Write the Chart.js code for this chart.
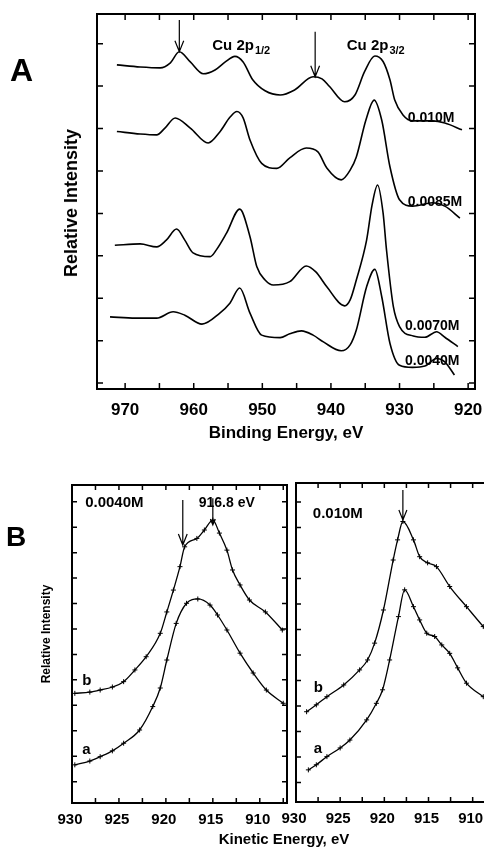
<!DOCTYPE html>
<html lang="en">
<head>
<meta charset="UTF-8">
<title>Cu 2p XPS spectra</title>
<style>
  body {
    margin: 0;
    width: 484px;
    height: 847px;
    overflow: hidden;
    position: relative;
    background: #fff;
    color: #000;
    font-family: "Liberation Sans", Arial, sans-serif;
    font-weight: bold;
  }
  canvas { position: absolute; left: 0; top: 0; }
  .lbl { position: absolute; white-space: nowrap; line-height: 1; }
  .ytitle { transform: translate(-50%, -50%) rotate(-90deg); }
</style>
</head>
<body>
  <canvas id="chartA" width="484" height="847"></canvas>
  <canvas id="chartBL" width="484" height="847"></canvas>
  <canvas id="chartBR" width="530" height="847"></canvas>

  <div class="lbl" style="left:10px; top:54px; font-size:32px;">A</div>
  <div class="lbl" style="left:6px; top:523px; font-size:28px;">B</div>
  <div class="lbl ytitle" style="left:71px; top:203px; font-size:18px;">Relative Intensity</div>
  <div class="lbl ytitle" style="left:46px; top:634px; font-size:12px;">Relative Intensity</div>
  <div class="lbl" style="left:284px; top:831px; font-size:15px; transform:translateX(-50%);">Kinetic Energy, eV</div>

  <script src="https://cdn.jsdelivr.net/npm/chart.js"></script>
  <script>
    // tick labels
    const tickLabelsA = [970, 960, 950, 940, 930, 920];
    const tickLabelsB = [930, 925, 920, 915, 910];

    // panel A: binding energy (eV) and relative intensity (offset units)
    const e010 = [971.2, 967.8, 964.9, 963.4, 962.1, 960.5, 958.6, 956.9, 955.4, 954.0, 952.8, 951.4, 949.6, 947.4, 945.3, 942.6, 941.3, 940.2, 938.0, 936.5, 935.1, 933.6, 932.4, 931.4, 930.7, 929.5, 928.1, 925.2, 923.4, 920.9];
    const i010 = [7.50, 7.45, 7.43, 7.55, 7.81, 7.57, 7.29, 7.38, 7.57, 7.70, 7.57, 7.15, 6.89, 6.79, 6.91, 7.22, 7.17, 6.99, 6.63, 6.79, 7.34, 7.71, 7.58, 7.15, 6.67, 6.32, 6.18, 6.18, 6.13, 5.97];

    const e0085 = [971.2, 967.8, 965.4, 964.2, 962.7, 960.5, 957.9, 956.2, 954.7, 953.7, 952.8, 951.8, 950.1, 947.9, 946.0, 943.6, 941.9, 940.6, 938.5, 937.2, 936.3, 934.9, 933.7, 932.6, 931.4, 930.0, 928.1, 925.2, 923.4, 921.2];
    const i0085 = [5.93, 5.87, 5.85, 6.01, 6.25, 6.01, 5.66, 5.92, 6.27, 6.40, 6.25, 5.73, 5.18, 5.06, 5.31, 5.54, 5.45, 5.07, 4.79, 5.02, 5.33, 6.20, 6.67, 6.20, 5.10, 4.32, 4.17, 4.25, 4.17, 3.89];

    const e0070 = [971.5, 967.8, 965.4, 964.0, 962.5, 961.3, 960.1, 957.6, 956.7, 955.2, 953.3, 951.8, 950.8, 949.6, 948.4, 946.0, 943.6, 942.2, 940.6, 938.0, 937.2, 936.3, 934.8, 934.0, 933.2, 932.4, 931.9, 930.9, 930.0, 928.0, 926.3, 924.6, 923.4, 921.5];
    const i0070 = [3.25, 3.28, 3.21, 3.37, 3.63, 3.37, 3.07, 2.98, 3.14, 3.54, 4.10, 3.45, 2.74, 2.43, 2.31, 2.39, 2.76, 2.62, 2.27, 1.82, 1.96, 2.43, 3.37, 4.20, 4.67, 4.01, 3.14, 1.80, 1.33, 1.11, 1.08, 1.21, 1.08, 0.86];

    const e0040 = [972.2, 968.5, 965.4, 963.0, 961.3, 958.8, 956.2, 954.7, 953.3, 951.8, 950.1, 947.4, 946.0, 944.3, 942.6, 941.1, 938.5, 937.2, 936.3, 934.8, 933.6, 932.6, 931.4, 930.0, 928.1, 926.3, 924.6, 923.4, 922.0];
    const i0040 = [1.56, 1.53, 1.53, 1.68, 1.60, 1.39, 1.65, 1.89, 2.24, 1.65, 1.13, 1.07, 1.16, 1.23, 1.13, 0.97, 0.76, 0.90, 1.25, 2.27, 2.68, 2.04, 0.94, 0.42, 0.37, 0.40, 0.58, 0.50, 0.19];

    // panel B left (0.0040M): kinetic energy (eV), intensity
    const kL_b = [929.7, 928.1, 927.0, 925.7, 924.5, 923.3, 922.1, 920.6, 919.9, 919.2, 918.5, 918.0, 916.7, 915.9, 915.0, 914.3, 913.5, 912.9, 912.1, 911.1, 909.4, 907.6];
    const iL_b = [3.47, 3.52, 3.60, 3.72, 3.93, 4.39, 4.91, 5.83, 6.67, 7.53, 8.45, 9.23, 9.56, 9.89, 10.28, 9.77, 9.10, 8.32, 7.73, 7.14, 6.67, 5.96];
    const kL_a = [929.7, 928.1, 927.0, 925.7, 924.5, 922.8, 921.4, 920.6, 919.9, 918.9, 917.8, 916.6, 915.3, 914.5, 913.5, 912.1, 910.7, 909.3, 907.5];
    const iL_a = [0.66, 0.81, 0.98, 1.21, 1.51, 2.03, 2.95, 3.68, 4.78, 6.22, 7.01, 7.18, 6.94, 6.55, 5.96, 5.05, 4.27, 3.60, 3.08];

    // panel B right (0.010M)
    const kR_b = [928.8, 927.7, 926.5, 924.6, 922.8, 921.9, 921.1, 920.1, 919.0, 918.5, 917.9, 916.7, 916.0, 915.1, 914.1, 912.6, 910.7, 908.8, 906.9];
    const iR_b = [2.78, 3.05, 3.37, 3.83, 4.42, 4.81, 5.47, 6.77, 8.73, 9.52, 10.24, 9.52, 8.86, 8.62, 8.47, 7.69, 6.90, 6.12, 5.40];
    const kR_a = [928.6, 927.7, 926.5, 925.0, 923.9, 922.0, 920.9, 920.2, 919.4, 918.4, 917.7, 916.7, 916.0, 915.2, 914.3, 913.5, 912.6, 911.7, 910.7, 908.8];
    const iR_a = [0.50, 0.70, 1.02, 1.36, 1.67, 2.46, 3.11, 3.64, 4.81, 6.51, 7.56, 6.90, 6.38, 5.86, 5.73, 5.40, 5.07, 4.50, 3.90, 3.37];

    const FONT = '"Liberation Sans", Arial, sans-serif';

    function pts(xs, ys) {
      return xs.map((x, i) => ({ x: x, y: ys[i] }));
    }

    function lineSet(xs, ys, withMarks) {
      return {
        data: pts(xs, ys),
        showLine: true,
        borderColor: '#000',
        borderWidth: withMarks ? 1.3 : 1.6,
        cubicInterpolationMode: 'monotone',
        pointStyle: 'cross',
        pointRadius: withMarks ? 2.5 : 0,
        pointBorderColor: '#000',
        pointBorderWidth: 1,
        fill: false
      };
    }

    // frame, inward ticks, labels and arrows
    function framePlugin(cfg) {
      return {
        id: 'frame',
        afterDatasetsDraw(chart) {
          const ctx = chart.ctx;
          const a = chart.chartArea;
          const x = chart.scales.x;
          const y = chart.scales.y;
          ctx.save();
          ctx.strokeStyle = '#000';
          ctx.fillStyle = '#000';
          ctx.lineWidth = 2;
          ctx.strokeRect(a.left, a.top, a.right - a.left, a.bottom - a.top);

          ctx.lineWidth = 1.5;
          ctx.beginPath();
          x.ticks.forEach(t => {
            const p = x.getPixelForValue(t.value);
            ctx.moveTo(p, a.top); ctx.lineTo(p, a.top + cfg.tick);
            ctx.moveTo(p, a.bottom); ctx.lineTo(p, a.bottom - cfg.tick);
          });
          y.ticks.forEach(t => {
            const p = y.getPixelForValue(t.value);
            ctx.moveTo(a.left, p); ctx.lineTo(a.left + cfg.tick, p);
            ctx.moveTo(a.right, p); ctx.lineTo(a.right - cfg.tick, p);
          });
          ctx.stroke();

          ctx.textAlign = 'left';
          ctx.textBaseline = 'alphabetic';
          cfg.texts.forEach(t => {
            const px = x.getPixelForValue(t.x);
            const py = y.getPixelForValue(t.y);
            ctx.font = 'bold ' + t.size + 'px ' + FONT;
            ctx.fillText(t.text, px, py);
            if (t.sub) {
              const w = ctx.measureText(t.text).width;
              ctx.font = 'bold ' + t.subSize + 'px ' + FONT;
              ctx.fillText(t.sub, px + w + 1, py + 4);
            }
          });

          ctx.lineWidth = 1.2;
          cfg.arrows.forEach(ar => {
            const px = x.getPixelForValue(ar.x);
            const p0 = y.getPixelForValue(ar.from);
            const p1 = y.getPixelForValue(ar.to);
            ctx.beginPath();
            ctx.moveTo(px, p0); ctx.lineTo(px, p1);
            ctx.moveTo(px - ar.head / 2.5, p1 - ar.head); ctx.lineTo(px, p1);
            ctx.lineTo(px + ar.head / 2.5, p1 - ar.head);
            ctx.stroke();
          });
          ctx.restore();
        }
      };
    }

    function xAxis(min, max, step, labels, fontSize, pad, height, title, offset) {
      const ax = {
        type: 'linear',
        reverse: true,
        min: min,
        max: max,
        grid: { display: false, drawTicks: false },
        border: { display: false },
        ticks: {
          stepSize: step,
          includeBounds: false,
          autoSkip: false,
          maxRotation: 0,
          padding: pad,
          labelOffset: offset,
          color: '#000',
          font: { family: FONT, size: fontSize, weight: 'bold' },
          callback: v => labels.includes(v) ? String(v) : ''
        },
        // keep the plot frame where the layout padding puts it
        afterFit: s => {
          s.height = height;
          s.paddingLeft = 0;
          s.paddingRight = 0;
        }
      };
      if (title) {
        ax.title = {
          display: true,
          text: title,
          color: '#000',
          padding: { top: 0, bottom: 0 },
          font: { family: FONT, size: fontSize, weight: 'bold' }
        };
      }
      return ax;
    }

    function yAxis(min, max) {
      return {
        type: 'linear',
        display: false,
        min: min,
        max: max,
        ticks: { stepSize: 1, includeBounds: false }
      };
    }

    function makeChart(id, datasets, padding, scales, cfg) {
      return new Chart(document.getElementById(id), {
        type: 'scatter',
        data: { datasets: datasets },
        options: {
          responsive: false,
          animation: false,
          events: [],
          layout: { padding: padding },
          plugins: { legend: { display: false }, tooltip: { enabled: false } },
          scales: scales
        },
        plugins: [framePlugin(cfg)]
      });
    }

    // panel A
    makeChart('chartA',
      [lineSet(e010, i010), lineSet(e0085, i0085), lineSet(e0070, i0070), lineSet(e0040, i0040)],
      { left: 97, right: 9, top: 14, bottom: 847 - 389 - 55 },
      { x: xAxis(919, 974.1, 5, tickLabelsA, 17, 11, 55, 'Binding Energy, eV', 0), y: yAxis(-0.14, 8.7) },
      {
        tick: 6,
        texts: [
          { x: 957.3, y: 7.85, text: 'Cu 2p', sub: '1/2', size: 15, subSize: 11 },
          { x: 937.7, y: 7.85, text: 'Cu 2p', sub: '3/2', size: 15, subSize: 11 },
          { x: 928.8, y: 6.16, text: '0.010M', size: 14 },
          { x: 928.8, y: 4.17, text: '0.0085M', size: 14 },
          { x: 929.2, y: 1.25, text: '0.0070M', size: 14 },
          { x: 929.2, y: 0.42, text: '0.0040M', size: 14 }
        ],
        arrows: [
          { x: 962.1, from: 8.56, to: 7.81, head: 11 },
          { x: 942.3, from: 8.28, to: 7.22, head: 11 }
        ]
      });

    // panel B, left
    makeChart('chartBL',
      [lineSet(kL_b, iL_b, true), lineSet(kL_a, iL_a, true)],
      { left: 72, right: 484 - 287, top: 485, bottom: 847 - 803 - 30 },
      { x: xAxis(907.1, 930, 2.5, tickLabelsB, 15, 8, 30, null, -2), y: yAxis(-0.84, 11.66) },
      {
        tick: 5,
        texts: [
          { x: 928.6, y: 10.79, text: '0.0040M', size: 15 },
          { x: 916.5, y: 10.79, text: '916.8 eV', size: 14 },
          { x: 928.9, y: 3.80, text: 'b', size: 15 },
          { x: 928.9, y: 1.09, text: 'a', size: 15 }
        ],
        arrows: [
          { x: 918.2, from: 11.07, to: 9.30, head: 11 },
          { x: 915.0, from: 11.14, to: 10.09, head: 6 }
        ]
      });

    // panel B, right
    makeChart('chartBR',
      [lineSet(kR_b, iR_b, true), lineSet(kR_a, iR_a, true)],
      { left: 296, right: 530 - 508, top: 483, bottom: 847 - 802 - 30 },
      { x: xAxis(906.0, 930, 2.5, tickLabelsB, 15, 8, 30, null, -2), y: yAxis(-0.76, 11.75) },
      {
        tick: 5,
        texts: [
          { x: 928.1, y: 10.38, text: '0.010M', size: 15 },
          { x: 928.0, y: 3.56, text: 'b', size: 15 },
          { x: 928.0, y: 1.16, text: 'a', size: 15 }
        ],
        arrows: [
          { x: 917.9, from: 11.48, to: 10.30, head: 10 }
        ]
      });
  </script>
</body>
</html>
